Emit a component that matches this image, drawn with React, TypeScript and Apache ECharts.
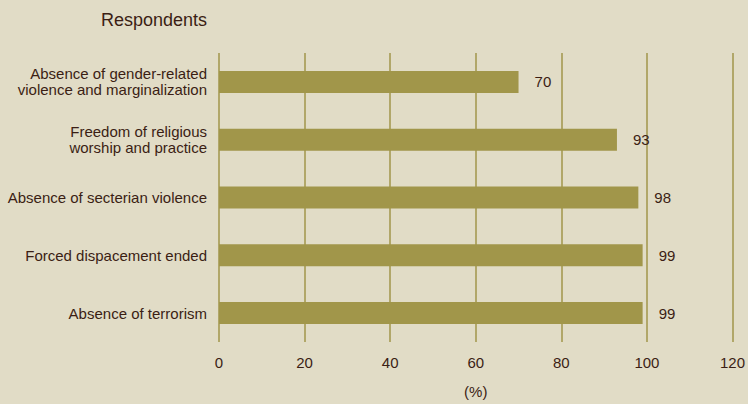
import React, { useEffect, useRef } from "react";
import * as echarts from "echarts";

const categories = [
  "Absence of gender-related\nviolence and marginalization",
  "Freedom of religious\nworship and practice",
  "Absence of secterian violence",
  "Forced dispacement ended",
  "Absence of terrorism",
];
const values = [70, 93, 98, 99, 99];
const xTicks = [0, 20, 40, 60, 80, 100, 120];

const BG = "#e1dcc6";
const OLIVE = "#a1964a";
const TEXT = "#3b1e14";
const FONT = "'Liberation Sans', Arial, sans-serif";

export default function App() {
  const ref = useRef<HTMLDivElement>(null);
  useEffect(() => {
    if (!ref.current) return;
    const chart = echarts.init(ref.current, undefined, { renderer: "svg" });
    chart.setOption({
      animation: false,
      backgroundColor: BG,
      textStyle: { fontFamily: FONT, color: TEXT },
      graphic: [
        {
          type: "text",
          right: 748 - 207,
          top: 11,
          style: {
            text: "Respondents",
            fill: TEXT,
            font: "18px 'Liberation Sans', Arial, sans-serif",
            textAlign: "right",
          },
        },
      ],
      grid: { left: 219, right: 15, top: 53, bottom: 58 },
      xAxis: {
        type: "value",
        min: xTicks[0],
        max: xTicks[xTicks.length - 1],
        interval: 20,
        name: "(%)",
        nameLocation: "middle",
        nameGap: 42,
        nameTextStyle: { color: TEXT, fontSize: 15, fontFamily: FONT },
        axisLine: { show: false },
        axisTick: { show: false },
        axisLabel: { color: TEXT, fontSize: 15, fontFamily: FONT, margin: 13 },
        splitLine: { show: true, lineStyle: { color: OLIVE, width: 1.5 } },
      },
      yAxis: {
        type: "category",
        data: categories,
        inverse: true,
        axisLine: { show: false },
        axisTick: { show: false },
        axisLabel: {
          color: TEXT,
          fontSize: 15,
          lineHeight: 16,
          fontFamily: FONT,
          margin: 12,
          align: "right",
        },
        splitLine: { show: false },
      },
      series: [
        {
          type: "bar",
          data: values,
          barWidth: 22,
          itemStyle: { color: OLIVE },
          label: {
            show: true,
            position: "right",
            distance: 16,
            color: TEXT,
            fontSize: 15,
            fontFamily: FONT,
          },
        },
      ],
    });
    return () => chart.dispose();
  }, []);
  return (
    <div
      ref={ref}
      style={{ position: "fixed", left: 0, top: 0, width: 748, height: 404 }}
    />
  );
}
